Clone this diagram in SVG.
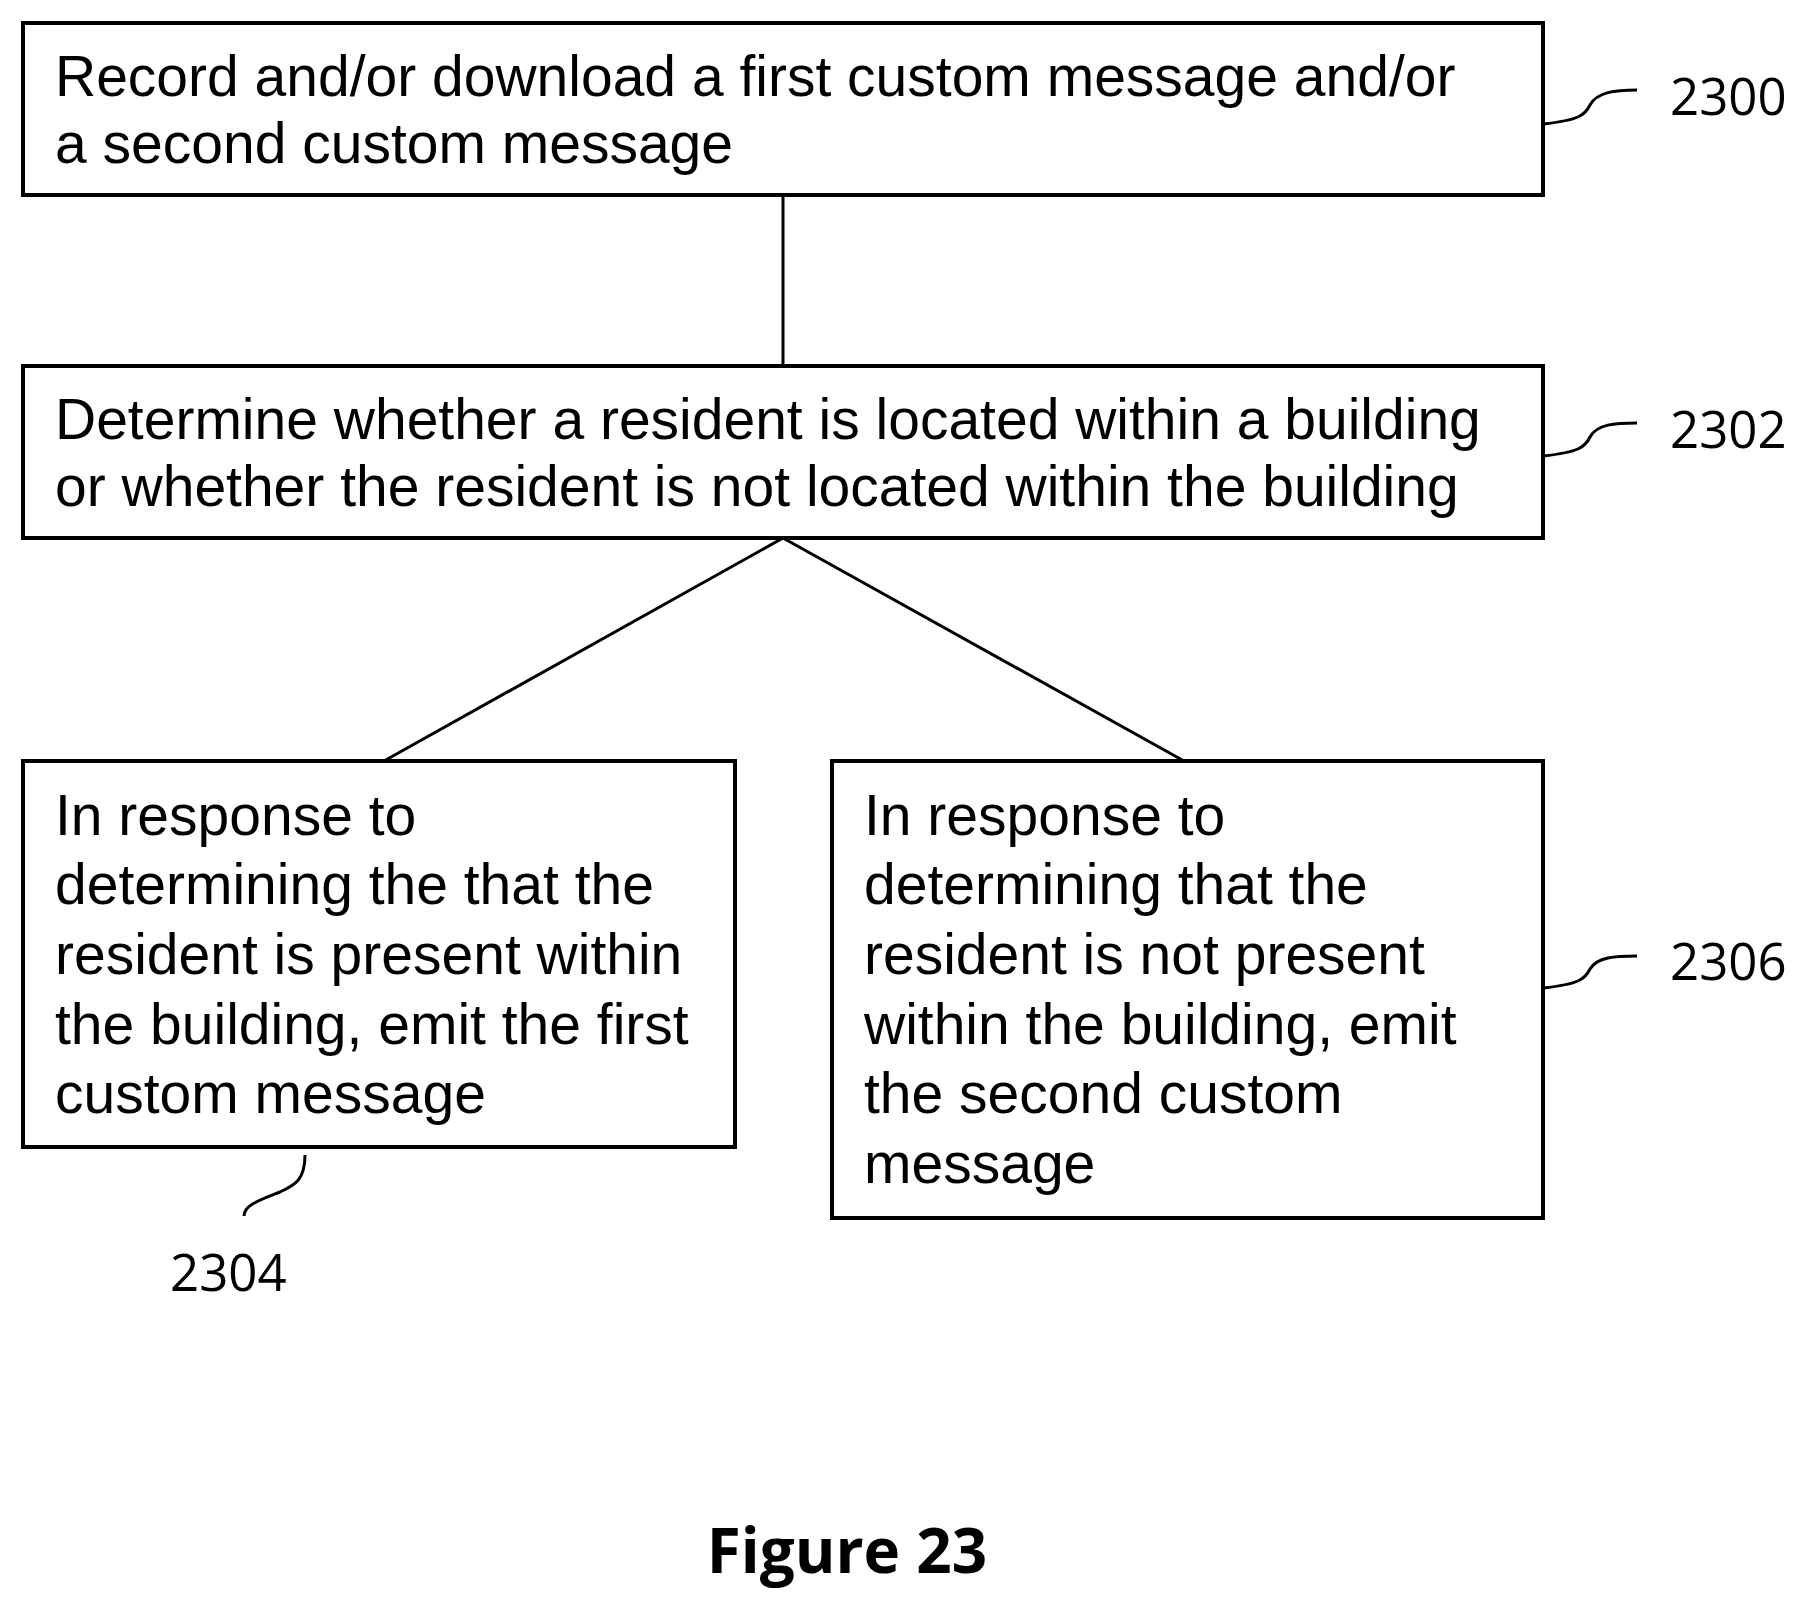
<svg xmlns="http://www.w3.org/2000/svg" width="1804" height="1604" viewBox="0 0 1804 1604">
<style>
.b{fill:#fff;stroke:#000;stroke-width:4}
.t{font-family:"Liberation Sans",Arial,sans-serif;font-size:57px;fill:#000}
.l{font-family:"Open Sans","Liberation Sans",sans-serif;font-size:51px;fill:#000}
.c{fill:none;stroke:#000;stroke-width:3}
</style>
<rect width="1804" height="1604" fill="#fff"/>
<g id="connectors">
<line class="c" x1="783" y1="195" x2="783" y2="366"/>
<line class="c" x1="783" y1="538" x2="384" y2="761"/>
<line class="c" x1="783" y1="538" x2="1184" y2="761"/>
</g>
<g id="n2300">
<rect class="b" x="23" y="23" width="1520" height="172"/>
<text class="t" x="55" y="96">Record and/or download a first custom message and/or</text>
<text class="t" x="55" y="163">a second custom message</text>
<path class="c" d="M1543,124 C1580,120 1585,115 1590,105 C1597,92 1615,90 1637,90"/>
<text class="l" x="1670" y="115">2300</text>
</g>
<g id="n2302">
<rect class="b" x="23" y="366" width="1520" height="172"/>
<text class="t" x="55" y="439">Determine whether a resident is located within a building</text>
<text class="t" x="55" y="506">or whether the resident is not located within the building</text>
<path class="c" d="M1543,456 C1580,452 1585,447 1590,437 C1597,424 1615,423 1637,423"/>
<text class="l" x="1670" y="448">2302</text>
</g>
<g id="n2304">
<rect class="b" x="23" y="761" width="712" height="386"/>
<text class="t" x="55" y="835">In response to</text>
<text class="t" x="55" y="904">determining the that the</text>
<text class="t" x="55" y="974">resident is present within</text>
<text class="t" x="55" y="1044">the building, emit the first</text>
<text class="t" x="55" y="1113">custom message</text>
<path class="c" d="M305,1155 C305,1180 295,1185 280,1192 C260,1200 244,1205 244,1216"/>
<text class="l" x="170" y="1291">2304</text>
</g>
<g id="n2306">
<rect class="b" x="832" y="761" width="711" height="457"/>
<text class="t" x="864" y="835">In response to</text>
<text class="t" x="864" y="904">determining that the</text>
<text class="t" x="864" y="974">resident is not present</text>
<text class="t" x="864" y="1044">within the building, emit</text>
<text class="t" x="864" y="1113">the second custom</text>
<text class="t" x="864" y="1183">message</text>
<path class="c" d="M1543,988 C1580,984 1585,979 1590,969 C1597,957 1615,956 1637,956"/>
<text class="l" x="1670" y="980">2306</text>
</g>
<text x="847" y="1573" text-anchor="middle" font-family="'Open Sans','Liberation Sans',sans-serif" font-weight="bold" font-size="62">Figure 23</text>
</svg>
